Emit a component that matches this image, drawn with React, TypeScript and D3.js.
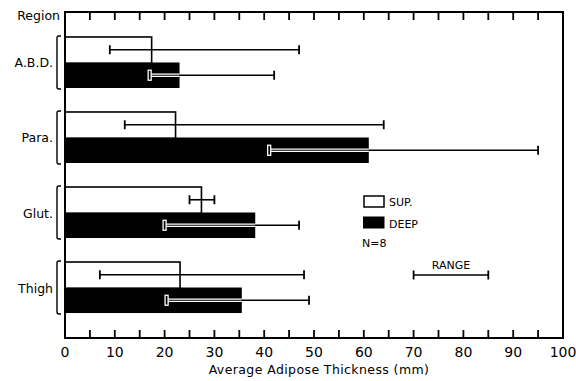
import * as d3 from 'd3';

const regions = ['A.B.D.', 'Para.', 'Glut.', 'Thigh'];
const supMean = [17.4, 22.2, 27.4, 23.1];
const supMin = [9, 12, 25, 7];
const supMax = [47, 64, 30, 48];
const deepMean = [23, 61, 38.2, 35.5];
const deepMin = [17, 41, 20, 20.4];
const deepMax = [42, 95, 47, 49];
const xTicks = d3.range(0, 101, 10);
const minorTicks = d3.range(5, 100, 5);
const rangeExample = [70, 85];

const W = 576;
const H = 381;
const left = 65;
const right = 563;
const top = 12;
const bottom = 338;
const font = '"DejaVu Sans", Verdana, sans-serif';

export default function App() {
  const x = d3.scaleLinear().domain([0, 100]).range([left, right]);
  const y = d3.scaleBand<string>().domain(regions).range([top, bottom])
    .paddingInner(0.32).paddingOuter(0.333);
  const sub = d3.scaleBand<string>().domain(['sup', 'deep']).range([0, y.bandwidth()]);
  const cap = 4.5;

  return (
    <svg width={W} height={H} style={{ position: 'absolute', left: 0, top: 0, background: '#fff' }}>
      {regions.map((r, i) => {
        const g0 = y(r)!;
        const ys = g0 + sub('sup')!;
        const yd = g0 + sub('deep')!;
        const bh = sub.bandwidth();
        const ms = ys + bh / 2;
        const md = yd + bh / 2;
        const g1 = g0 + y.bandwidth();
        return (
          <g key={r}>
            {/* superficial: open bar */}
            <rect x={x(0)} y={ys} width={x(supMean[i]) - x(0)} height={bh + 1}
              fill="#fff" stroke="#000" strokeWidth={1.6} />
            <line x1={x(supMin[i])} x2={x(supMax[i])} y1={ms} y2={ms} stroke="#000" strokeWidth={1.6} />
            <line x1={x(supMin[i])} x2={x(supMin[i])} y1={ms - cap} y2={ms + cap} stroke="#000" strokeWidth={1.8} />
            <line x1={x(supMax[i])} x2={x(supMax[i])} y1={ms - cap} y2={ms + cap} stroke="#000" strokeWidth={1.8} />
            {/* deep: filled bar */}
            <rect x={x(0)} y={yd} width={x(deepMean[i]) - x(0)} height={bh} fill="#000" />
            <line x1={x(deepMin[i])} x2={x(deepMean[i])} y1={md} y2={md} stroke="#fff" strokeWidth={3.5} />
            <line x1={x(deepMin[i])} x2={x(deepMean[i])} y1={md} y2={md} stroke="#000" strokeWidth={1} />
            <rect x={x(deepMin[i]) - 1.5} y={md - cap - 0.5} width={3} height={2 * cap + 1} fill="#000" stroke="#fff" strokeWidth={1.3} />
            <line x1={x(deepMean[i])} x2={x(deepMax[i])} y1={md} y2={md} stroke="#000" strokeWidth={1.6} />
            <line x1={x(deepMax[i])} x2={x(deepMax[i])} y1={md - cap} y2={md + cap} stroke="#000" strokeWidth={1.8} />
            {/* bracket */}
            <path d={`M61,${g0 - 1} L59,${g0 - 1} Q57,${g0 - 1} 57,${g0 + 1} L57,${g1 - 1} Q57,${g1 + 1} 59,${g1 + 1} L61,${g1 + 1}`}
              fill="none" stroke="#000" strokeWidth={1.4} />
            <text x={53} y={(g0 + g1) / 2 + 1.5} textAnchor="end" dominantBaseline="middle"
              fontFamily={font} fontSize={12.5}>{r}</text>
          </g>
        );
      })}

      {/* frame */}
      <path d={`M${left},${top} L${right},${top} L${right},${bottom} L${left},${bottom} Z`} fill="none" stroke="#000" strokeWidth={2} />
      {minorTicks.map((t) => (
        <g key={t}>
          <line x1={x(t)} x2={x(t)} y1={top} y2={top + 8} stroke="#000" strokeWidth={1.8} />
          <line x1={x(t)} x2={x(t)} y1={bottom} y2={bottom - 8} stroke="#000" strokeWidth={1.8} />
        </g>
      ))}
      {xTicks.map((t) => (
        <text key={t} x={x(t)} y={357} textAnchor="middle" fontFamily={font} fontSize={14}>{t}</text>
      ))}
      <text x={319} y={374} textAnchor="middle" fontFamily={font} fontSize={12.5} letterSpacing={0.4}>Average Adipose Thickness (mm)</text>
      <text x={60} y={20} textAnchor="end" fontFamily={font} fontSize={12.5}>Region</text>

      {/* legend */}
      <rect x={364} y={196} width={20} height={11} fill="#fff" stroke="#000" strokeWidth={1.5} />
      <text x={389} y={206} fontFamily={font} fontSize={11}>SUP.</text>
      <rect x={363} y={216.5} width={21.5} height={12} fill="#000" />
      <text x={389} y={228} fontFamily={font} fontSize={11}>DEEP</text>
      <text x={362} y={247} fontFamily={font} fontSize={11}>N=8</text>
      <text x={(x(rangeExample[0]) + x(rangeExample[1])) / 2} y={269} textAnchor="middle" fontFamily={font} fontSize={11}>RANGE</text>
      <line x1={x(rangeExample[0])} x2={x(rangeExample[1])} y1={275} y2={275} stroke="#000" strokeWidth={1.6} />
      <line x1={x(rangeExample[0])} x2={x(rangeExample[0])} y1={275 - cap} y2={275 + cap} stroke="#000" strokeWidth={1.8} />
      <line x1={x(rangeExample[1])} x2={x(rangeExample[1])} y1={275 - cap} y2={275 + cap} stroke="#000" strokeWidth={1.8} />
    </svg>
  );
}
